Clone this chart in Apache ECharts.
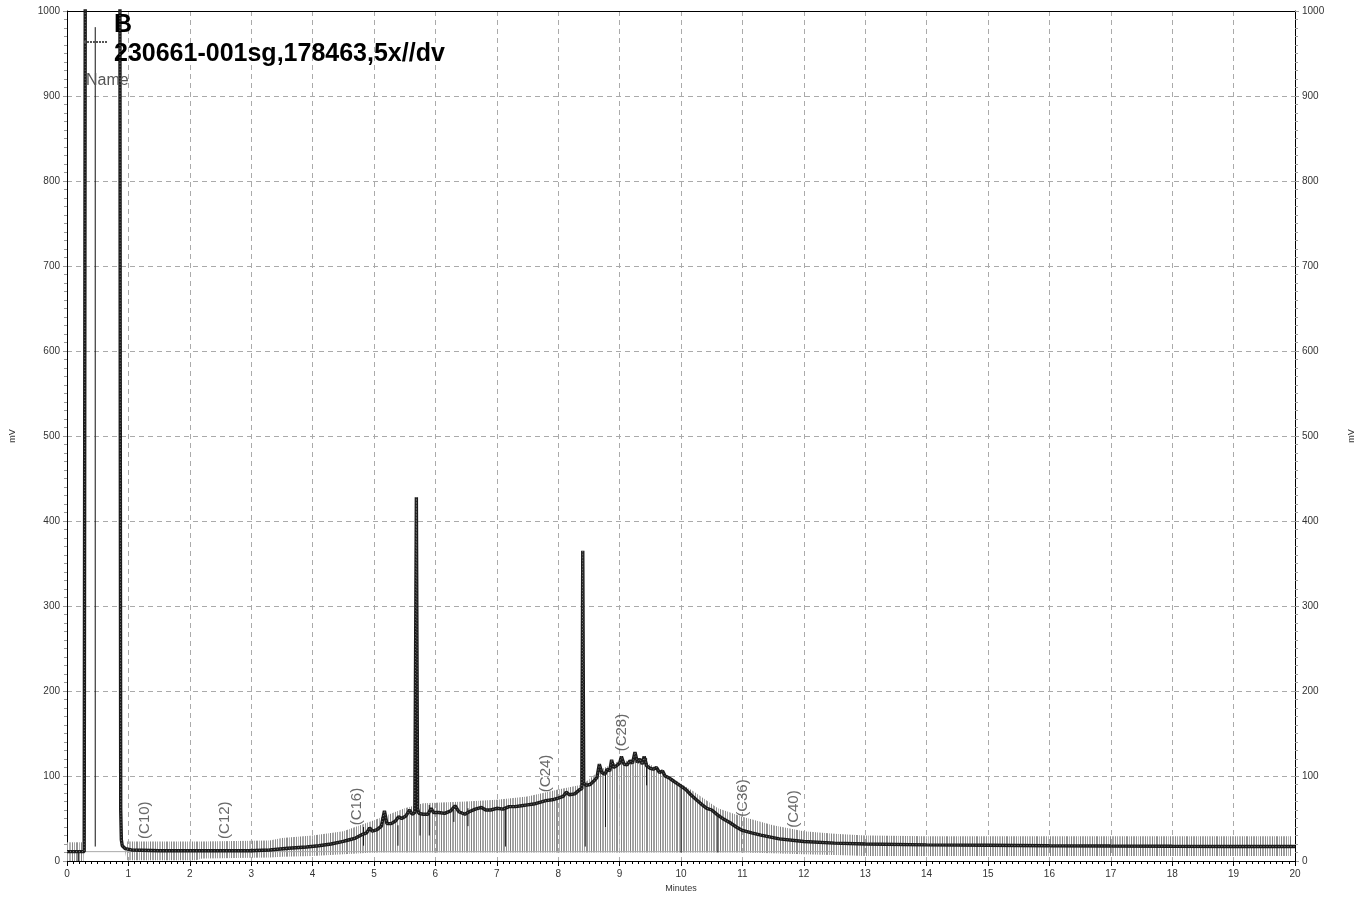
<!DOCTYPE html>
<html><head><meta charset="utf-8">
<script src="https://cdn.jsdelivr.net/npm/echarts@6/dist/echarts.min.js"></script>
<style>html,body{margin:0;padding:0;background:#fff}#c{width:1365px;height:900px}</style>
</head><body><div id="c"></div>
<script>
// ---- data ----
const traceTime = [0.00,0.28,0.295,0.30,0.86,0.868,0.875,0.885,0.90,0.95,1.05,1.5,2.0,2.5,3.0,3.3,3.6,3.9,4.1,4.3,4.5,4.6,4.7,4.8,4.88,4.93,4.97,5.05,5.12,5.17,5.21,5.28,5.35,5.40,5.45,5.52,5.58,5.62,5.665,5.69,5.71,5.73,5.8,5.88,5.93,5.97,6.05,6.15,6.25,6.32,6.38,6.48,6.55,6.65,6.75,6.82,6.9,7.0,7.1,7.2,7.3,7.4,7.5,7.6,7.7,7.8,7.9,8.0,8.08,8.13,8.18,8.27,8.35,8.385,8.40,8.415,8.45,8.52,8.58,8.63,8.67,8.71,8.76,8.80,8.84,8.87,8.90,8.95,9.00,9.03,9.07,9.12,9.17,9.21,9.25,9.29,9.33,9.37,9.40,9.44,9.50,9.55,9.60,9.65,9.70,9.74,9.80,9.86,9.92,10.0,10.08,10.16,10.25,10.33,10.42,10.5,10.6,10.7,10.8,10.9,11.0,11.15,11.3,11.6,12.0,12.5,13.0,14.0,15.0,16.0,17.0,18.0,19.0,20.0];
const traceMv   = [11,11,11,1200,1200,500,60,25,18,14.5,13,12,12,12,12,13,15,16.5,18,20,23,25,27,31,33,39,35,37,41,59,44,44,47,52,50,53,60,55,57,428,62,56,55,55,62,57,57,56,59,65,58,55,58,61,63,60,60,62,61,64,64,65,66,67,69,71,72,74,76,81,78,79,84,85,365,92,89,90,94,98,114,104,102,108,106,119,110,112,115,123,114,113,118,115,128,116,120,114,123,112,109,108,110,104,106,100,98,95,92,88,84,78,72,67,62,60,54,49,45,40,36,33,30.5,26,23,21,20,19,18.5,18,17.6,17.3,17.1,17];

const hatchTime  = [0.0,0.27,0.28,0.95,0.97,2.1,2.2,3.3,3.5,4.0,4.5,5.0,5.5,5.8,6.5,7.0,7.5,8.0,8.4,8.7,9.0,9.4,9.8,10.2,10.6,11.0,11.5,12.0,12.5,13.0,14.0,19.95];
const hatchUpper = [22,22,10,10,23,23,23,24,27,30,35,48,62,68,70,72,76,84,90,108,118,118,100,82,62,52,42,35,32,30,29,29];
const hatchLower = [0,0,10,10,1,1,3,4,5,6,8,10,10,10,10,10,10,10,10,10,10,10,10,10,10,10,9,8,7,6,6,6];

const dropTime   = [0.19,0.46,4.83,5.39,5.75,5.90,6.30,6.53,7.14,8.44,8.77,9.44,10.00,10.60];
const dropTop    = [10,981,40,42,56,66,60,62,63,88,108,121,88,55];
const dropBottom = [0,17,18,18,30,30,46,41,17,17,40,89,10,10];

const baselineTime = [0.3,12.5];
const baselineMv   = [11,11];

const peakNames  = ['(C10)','(C12)','(C16)','(C24)','(C28)','(C36)','(C40)'];
const peakTimes  = [1.27,2.57,4.72,7.80,9.03,11.0,11.84];
const peakLabelMv= [26,26,42,81,129,52,39];

const titleLetter = 'B';
const sampleName = '230661-001sg,178463,5x//dv';

// ---- styles ----
const FONT = 'Liberation Sans, Arial, sans-serif';
const pat = document.createElement('canvas');
pat.width = 30; pat.height = 4;
const pctx = pat.getContext('2d');
[[0,'#7e7e7e',1],[2,'#a8a8a8',2],[5,'#8c8c8c',1],[7,'#9e9e9e',1],[9,'#b4b4b4',2],[12,'#858585',1],[14,'#a4a4a4',1],[16,'#929292',2],[19,'#b0b0b0',1],[21,'#828282',1],[23,'#a0a0a0',2],[26,'#8f8f8f',1],[28,'#b6b6b6',1]].forEach(([x,c,w])=>{pctx.fillStyle=c;pctx.fillRect(x,0,w,4);});

const zip = (a,b)=>a.map((v,i)=>[v,b[i]]);
const hatchSegs = hatchTime.slice(0,-1).map((t,i)=>[t,hatchUpper[i],hatchLower[i],hatchTime[i+1],hatchUpper[i+1],hatchLower[i+1]]);

const chart = echarts.init(document.getElementById('c'), null, {renderer:'canvas'});
const option = {
  animation:false,
  backgroundColor:'#fff',
  title:[
    {text:titleLetter,left:114,top:13,padding:0,textStyle:{fontSize:25,fontWeight:'bold',color:'#000',fontFamily:FONT}},
    {text:sampleName,left:114,top:42,padding:0,textStyle:{fontSize:25,fontWeight:'bold',color:'#000',fontFamily:FONT}},
    {text:'Name',left:86,top:73,padding:0,textStyle:{fontSize:16,fontWeight:'normal',color:'#555',fontFamily:FONT}}
  ],
  graphic:[
    {type:'line',shape:{x1:84,y1:42,x2:108,y2:42},style:{stroke:'#555',lineWidth:2,lineDash:[2,1]},z:100}
  ],
  grid:{left:65,right:70,top:11,bottom:39,containLabel:false},
  xAxis:[
    {type:'value',min:0,max:20,interval:1,position:'bottom',
     name:'Minutes',nameLocation:'middle',nameGap:22,nameTextStyle:{fontSize:9,color:'#333',fontFamily:FONT},
     axisLine:{onZero:false,lineStyle:{color:'#000',width:1}},
     axisTick:{length:5,lineStyle:{color:'#000'}},
     minorTick:{show:true,splitNumber:10,length:3,lineStyle:{color:'#000'}},
     axisLabel:{color:'#333',fontSize:10,margin:8,fontFamily:FONT,formatter:v=>String(v)},
     splitLine:{show:true,lineStyle:{color:'#aaa',type:[5,4]}}},
    {type:'value',min:0,max:20,position:'top',
     axisLine:{show:true,onZero:false,lineStyle:{color:'#000'}},
     axisTick:{show:false},axisLabel:{show:false},splitLine:{show:false}}
  ],
  yAxis:[
    {type:'value',min:0,max:1000,interval:100,position:'left',
     name:'mV',nameLocation:'middle',nameGap:50,nameRotate:90,nameTextStyle:{fontSize:9,color:'#333',fontFamily:FONT},
     axisLine:{show:true,onZero:false,lineStyle:{color:'#000'}},
     axisTick:{show:true,length:4,lineStyle:{color:'#999'}},
     minorTick:{show:true,splitNumber:10,length:3,lineStyle:{color:'#999'}},
     axisLabel:{color:'#333',fontSize:10,margin:7,fontFamily:FONT,formatter:v=>String(v)},
     splitLine:{show:true,lineStyle:{color:'#aaa',type:[5,4]}}},
    {type:'value',min:0,max:1000,interval:100,position:'right',
     name:'mV',nameLocation:'middle',nameGap:52,nameRotate:90,nameTextStyle:{fontSize:9,color:'#333',fontFamily:FONT},
     axisLine:{show:true,onZero:false,lineStyle:{color:'#000'}},
     axisTick:{show:true,length:4,lineStyle:{color:'#999'}},
     minorTick:{show:true,splitNumber:10,length:3,lineStyle:{color:'#999'}},
     axisLabel:{color:'#333',fontSize:10,margin:7,fontFamily:FONT,formatter:v=>String(v)},
     splitLine:{show:false}}
  ],
  series:[
    {type:'custom',name:'hatch',silent:true,z:1,clip:true,
     data:hatchSegs,
     renderItem:(params,api)=>{
       const a=api.coord([api.value(0),api.value(1)]);
       const b=api.coord([api.value(3),api.value(4)]);
       const c=api.coord([api.value(3),api.value(5)]);
       const d=api.coord([api.value(0),api.value(2)]);
       return {type:'polygon',shape:{points:[a,b,c,d]},style:{fill:{image:pat,repeat:'repeat'},stroke:null}};
     }},
    {type:'line',name:'baseline',data:zip(baselineTime,baselineMv),symbol:'none',silent:true,
     lineStyle:{color:'#aaa',width:1},z:2},
    {type:'custom',name:'drops',silent:true,z:3,
     data:dropTime.map((t,i)=>[t,dropBottom[i],dropTop[i]]),
     renderItem:(params,api)=>{
       const p1=api.coord([api.value(0),api.value(1)]);
       const p2=api.coord([api.value(0),api.value(2)]);
       return {type:'line',shape:{x1:p1[0],y1:p1[1],x2:p2[0],y2:p2[1]},style:{stroke:'#111',lineWidth:1}};
     }},
    {type:'line',name:sampleName,data:zip(traceTime,traceMv),symbol:'none',clip:true,
     lineStyle:{color:'#1a1a1a',width:3.4},z:5},
    {type:'line',name:'texture',data:zip(traceTime,traceMv),symbol:'none',clip:true,silent:true,
     lineStyle:{color:'#777',width:1,type:[1,2]},z:6},
    {type:'scatter',name:'peaks',data:peakTimes.map((t,i)=>[t,peakLabelMv[i],peakNames[i]]),
     symbolSize:0,silent:true,z:7,
     label:{show:true,formatter:p=>p.data[2],rotate:90,position:[0,0],align:'left',verticalAlign:'middle',
       fontSize:15,color:'#444',fontFamily:FONT}}
  ]
};
chart.setOption(option);
</script>
</body></html>
